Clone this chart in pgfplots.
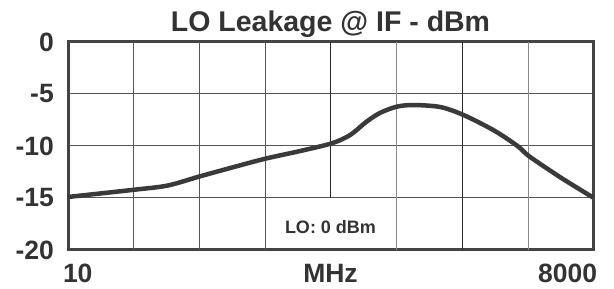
\documentclass[border=0pt]{standalone}
\usepackage{pgfplots}
\pgfplotsset{compat=1.18}
\usepackage{fontspec}
\setmainfont{Liberation Sans}
\definecolor{txt}{HTML}{333333}
\definecolor{frame}{HTML}{444444}
\definecolor{gdark}{HTML}{2A2A2A}
\definecolor{gmid}{HTML}{555555}
\definecolor{glight}{HTML}{8A8A8A}
\definecolor{curve}{HTML}{3A3A3A}
\begin{document}
\begin{tikzpicture}
\begin{axis}[
  scale only axis,
  width=525pt, height=208pt,
  xmode=log,
  xmin=10, xmax=8000,
  ymin=-20, ymax=0,
  ytick={-20,-15,-10,-5,0},
  xtick={10,282.84,8000},
  xticklabels={\makebox[0pt][l]{\hspace{-5pt}10},MHz,\makebox[0pt][r]{8000\hspace{-4pt}}},
  major tick length=0pt,
  minor tick num=0,
  log ticks with fixed point,
  ymajorgrids,
  grid style={color=gmid, line width=1pt},
  axis line style={color=frame, line width=3pt},
  tick label style={font=\fontsize{26.5}{29}\selectfont\bfseries, color=txt, inner sep=0pt},
  yticklabel style={anchor=east, xshift=-14pt},
  xticklabel style={anchor=north, yshift=-14pt},
  /pgf/number format/assume math mode=true,
  clip=false,
]
% vertical grid lines (8 equal log divisions from 10 to 8000)
\draw[gmid, line width=1pt] (axis cs:23.1,-20) -- (axis cs:23.1,0);
\draw[gmid, line width=1pt] (axis cs:53.5,-20) -- (axis cs:53.5,0);
\draw[gmid, line width=1pt] (axis cs:123.7,-20) -- (axis cs:123.7,0);
\draw[gdark, line width=1pt] (axis cs:282.84,-15) -- (axis cs:282.84,0);
\draw[glight, line width=1pt] (axis cs:654,-20) -- (axis cs:654,0);
\draw[gdark, line width=1pt] (axis cs:1512,-20) -- (axis cs:1512,0);
\draw[glight, line width=1pt] (axis cs:3497,-20) -- (axis cs:3497,0);
\addplot[curve, line width=4.5pt, smooth, tension=0.5] coordinates {
  (10,-14.9) (23.4,-14.2) (35.6,-13.8) (54.1,-12.9) (83.5,-12.0)
  (124.7,-11.2) (192.6,-10.48) (287.6,-9.74) (363.3,-8.94) (447.7,-7.66)
  (533.7,-6.8) (657.7,-6.22) (810.4,-6.06) (1141.6,-6.25) (1529,-7.0)
  (2265,-8.5) (3060,-10.0) (3557,-11.0) (5266,-13.0) (8000,-14.95)
};
\node[font=\fontsize{18}{20}\selectfont\bfseries, text=txt] at (axis cs:282.84,-17.8) {LO: 0 dBm};
\node[font=\fontsize{28.5}{31}\selectfont\bfseries, text=txt, anchor=base, inner sep=0pt] at ([yshift=10pt]rel axis cs:0.5,1) {LO Leakage @ IF - dBm};
\end{axis}
\pgfresetboundingbox
\path[use as bounding box] (-68pt,-39pt) rectangle (546pt,250pt);
\end{tikzpicture}
\end{document}
